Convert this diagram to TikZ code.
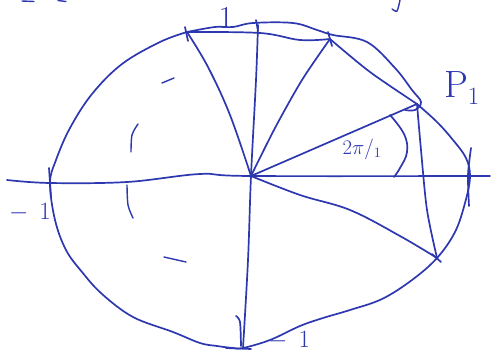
\documentclass[tikz,border=0pt]{standalone}
\usepackage{fontspec}
\begin{document}
\begin{tikzpicture}[x=1pt,y=-1pt,
  ink/.style={draw=inkblue,line width=1.7pt,line cap=round,line join=round},
  thinink/.style={draw=inkblue,line width=1.4pt,line cap=round},
  lbl/.style={text=inkblue,inner sep=0pt}]
\definecolor{inkblue}{RGB}{45,55,175}
\useasboundingbox (0,0) rectangle (501,359);
% key points
\coordinate (O) at (251,176);
\coordinate (A) at (187,32);
\coordinate (T) at (258,25);
\coordinate (B) at (330,39);
\coordinate (P) at (417,104);
\coordinate (C) at (437,258);
\coordinate (L) at (50,183);
\coordinate (Bt) at (243,348);
\coordinate (R) at (470,177);
\coordinate (AxL) at (7,180);
\coordinate (AxR) at (490,176);
% circle
\draw[ink] plot[smooth,tension=0.6] coordinates {(A) (160,42) (122,64) (92,94) (70,128) (56,160) (L) (55,220) (66,250) (82,272) (102,294) (133,317) (173,332) (200,343) (217,346) (233,348) (Bt) (270,340) (300,326) (323,318) (350,310) (382,299) (412,280) (C) (455,232) (465,203) (R) (466,158) (453,140) (437,122) (P)};
% top outer arc
\draw[ink] plot[smooth,tension=0.6] coordinates {(A) (215,27) (233,27) (253,23) (293,23) (317,30) (333,35) (367,42) (395,68) (412,90) (421,102) (415,110) (405,110)};
% chords
\draw[ink] plot[smooth,tension=0.6] coordinates {(A) (260,33) (300,40) (B)};
\draw[ink] plot[smooth,tension=0.5] coordinates {(B) (370,72) (P)};
\draw[ink] plot[smooth,tension=0.5] coordinates {(P) (421,150) (427,210) (C)};
% radii
\draw[ink] plot[smooth,tension=0.6] coordinates {(O) (230,115) (208,67) (A)};
\draw[ink] plot[smooth,tension=0.5] coordinates {(O) (275,128) (302,80) (B)};
\draw[ink] (O) -- (P);
\draw[ink] plot[smooth,tension=0.6] coordinates {(O) (300,195) (350,210) (400,236) (C)};
% axes
\draw[ink] plot[smooth,tension=0.6] coordinates {(T) (256,80) (O) (248,260) (Bt)};
\draw[ink] plot[smooth,tension=0.6] coordinates {(AxL) (L) (127,182) (200,174) (O) (AxR)};
% angle arc
\draw[ink] plot[smooth,tension=0.7] coordinates {(390,115) (404,134) (407,152) (400,168) (394,177)};
% tick marks
\draw[ink] (185,27) -- (188,41);
\draw[ink] (256,20) -- (258,31);
\draw[ink] (328,32) -- (332,46);
\draw[ink] (432,254) -- (441,262);
\draw[ink] (49,168) -- (51,197);
\draw[ink] plot[smooth] coordinates {(471,148) (468,175) (469,206)};
\draw[ink] plot[smooth] coordinates {(236,316) (240,322) (241,346)};
\draw[ink] (226,348) -- (251,349);
% stray marks
\draw[thinink] plot[smooth] coordinates {(138,124) (132,135) (131,152)};
\draw[thinink] plot[smooth] coordinates {(127,185) (128,205) (133,218)};
\draw[thinink] (162,83) -- (174,78);
\draw[thinink] (164,257) -- (186,262);
\draw[thinink] plot[smooth] coordinates {(400,0) (397,11) (392,9)};
\draw[thinink] (22,1) -- (34,1.5);
\draw[thinink] (58,0.5) -- (66,1.5);
% labels
\node[lbl,font=\fontsize{32}{32}\selectfont] (one) at (226,18) {1};
\node[lbl,font=\fontsize{28}{28}\selectfont] (mL) at (30,213) {$-\;\,1$};
\node[lbl,font=\fontsize{26}{26}\selectfont] (mB) at (289,341) {$-\;\,1$};
\node[lbl,font=\fontsize{38}{38}\selectfont] (P1) at (462,88) {$\mathrm{P}_1$};
\node[lbl,font=\fontsize{22}{22}\selectfont] (ang) at (362,149) {$2\pi/_{1}$};
\end{tikzpicture}
\end{document}
